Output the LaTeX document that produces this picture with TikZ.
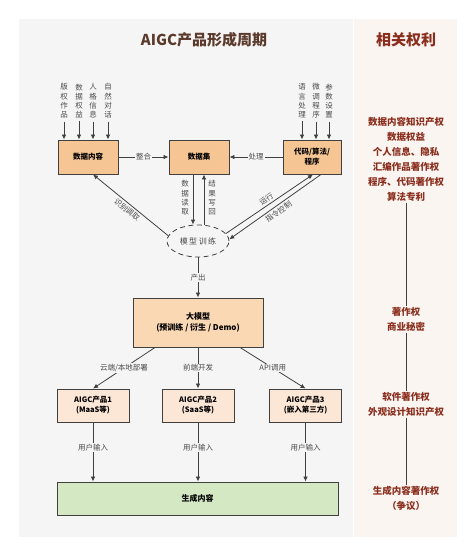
\documentclass[tikz,border=0pt]{standalone}
\usepackage{fontspec}
\usetikzlibrary{arrows.meta,shapes.geometric,positioning}
\newfontfamily\cjk{Noto Sans CJK SC}
\definecolor{panel}{HTML}{F5F5F5}
\definecolor{rpanel}{HTML}{FAF5F0}
\definecolor{tan}{HTML}{F5C594}
\definecolor{peach}{HTML}{FAD8B4}
\definecolor{pale}{HTML}{FCE6D5}
\definecolor{mint}{HTML}{D5E8C4}
\definecolor{brown}{HTML}{5B3A2C}
\definecolor{rust}{HTML}{8B2E1E}
\definecolor{edge}{HTML}{404040}
\definecolor{txt}{HTML}{4A4A4A}

\begin{document}
\begin{tikzpicture}[x=1pt, y=-1pt,
  box/.style={draw=edge, line width=0.9pt, inner sep=1pt, align=center},
  arr/.style={draw=edge, line width=0.8pt, -{Latex[length=5pt,width=4.5pt]}},
  lbl/.style={fill=panel, inner sep=1pt, text=txt, font=\cjk\fontsize{7.5}{9}\selectfont},
  vtext/.style={align=center, inner sep=0pt, text=txt, font=\cjk\fontsize{7.5}{9.3}\selectfont},
  rights/.style={align=center, inner sep=1pt, text=rust, font=\cjk\bfseries\fontsize{9.5}{15}\selectfont}]
\useasboundingbox (0,0) rectangle (475,555);
\fill[panel] (19,19) rectangle (353,537);
\fill[rpanel] (354,19) rectangle (457,537);

\node[text=brown, font=\cjk\bfseries\fontsize{15}{18}\selectfont] (title) at (204,40) {AIGC产品形成周期};
\node[text=rust, font=\cjk\bfseries\fontsize{15}{18}\selectfont] (rtitle) at (406,40) {相关权利};

\begin{scope}[every node/.style={box, fill=tan, minimum width=60pt, minimum height=34pt, font=\cjk\bfseries\fontsize{7.5}{10}\selectfont}]
\node (content) at (88,157) {数据内容};
\node (dataset) at (199,157) {数据集};
\node[minimum width=58pt] (code) at (312,157) {代码/算法/\\程序};
\end{scope}

\node[vtext] (in1) at (64,101) {版\\权\\作\\品};
\node[vtext] (in2) at (79,101) {数\\据\\权\\益};
\node[vtext] (in3) at (93,101) {人\\格\\信\\息};
\node[vtext] (in4) at (108,101) {自\\然\\对\\话};
\node[vtext] (in5) at (302,101) {语\\言\\处\\理};
\node[vtext] (in6) at (316,101) {微\\调\\程\\序};
\node[vtext] (in7) at (329,101) {参\\数\\设\\置};

\draw[arr, shorten <=3pt] (in1) -- (in1 |- content.north);
\draw[arr, shorten <=3pt] (in2) -- (in2 |- content.north);
\draw[arr, shorten <=3pt] (in3) -- (in3 |- content.north);
\draw[arr, shorten <=3pt] (in4) -- (in4 |- content.north);
\draw[arr, shorten <=3pt] (in5) -- (in5 |- code.north);
\draw[arr, shorten <=3pt] (in6) -- (in6 |- code.north);
\draw[arr, shorten <=3pt] (in7) -- (in7 |- code.north);

\draw[arr] (content) -- node[lbl]{整合} (dataset);
\draw[arr] (code) -- node[lbl]{处理} (dataset);

\node[draw=edge, dash pattern=on 5pt off 3.5pt, line width=0.8pt, ellipse, fill=panel, minimum width=62pt, minimum height=32pt, inner sep=0pt, text=txt, font=\cjk\fontsize{8}{9}\selectfont] (train) at (198,241) {模\hspace{1.5pt}型\hspace{1.5pt}训\hspace{1.5pt}练};

\coordinate (rd) at ([xshift=-6pt]dataset.south);
\coordinate (wb) at ([xshift=5pt]dataset.south);
\draw[arr] (rd) -- (rd |- train.north);
\draw[arr] (wb |- train.north) -- (wb);
\node[vtext] (read) at (185,198) {数\\据\\读\\取};
\node[vtext] (back) at (212,198) {结\\果\\写\\回};

\draw[arr] (train.170) -- node[lbl, sloped, below=1pt]{识别调取} ([xshift=5pt]content.south);
\draw[arr] (train.15) -- node[lbl, sloped, above=1pt]{运行} ([xshift=1pt]code.south);
\draw[arr] ([xshift=9pt]code.south) -- node[lbl, sloped, below=1pt]{指令控制} (train.3);

\node[box, fill=peach, minimum width=130pt, minimum height=49pt, font=\cjk\bfseries\fontsize{8}{11}\selectfont] (model) at (198,322.5) {大模型\\(预训练 / 衍生 / Demo)};
\draw[arr] (train) -- node[lbl]{产出} (model);

\begin{scope}[every node/.style={box, fill=pale, minimum width=72pt, minimum height=33pt, font=\cjk\bfseries\fontsize{7.5}{10}\selectfont}]
\node (p1) at (93,405.5) {AIGC产品1\\(MaaS等)};
\node (p2) at (198,405.5) {AIGC产品2\\(SaaS等)};
\node (p3) at (305.5,405.5) {AIGC产品3\\(嵌入第三方)};
\end{scope}

\draw[arr] ([xshift=-43pt]model.south) -- node[lbl]{云端/本地部署} (p1.north);
\draw[arr] (model) -- node[lbl]{前端开发} (p2);
\draw[arr] ([xshift=42pt]model.south) -- node[lbl]{API调用} (p3.north);

\node[box, fill=mint, minimum width=281pt, minimum height=33pt, font=\cjk\bfseries\fontsize{8}{10}\selectfont] (gen) at (197.5,498.5) {生成内容};

\draw[arr] (p1) -- node[lbl, pos=0.42]{用户输入} (p1 |- gen.north);
\draw[arr] (p2) -- node[lbl, pos=0.42]{用户输入} (p2 |- gen.north);
\draw[arr] (p3) -- node[lbl, pos=0.42]{用户输入} (p3 |- gen.north);

\node[rights] (r1) at (406,159.5) {数据内容知识产权\\数据权益\\个人信息、隐私\\汇编作品著作权\\程序、代码著作权\\算法专利};
\node[rights] (r2) at (406,319.5) {著作权\\商业秘密};
\node[rights] (r3) at (406,404.5) {软件著作权\\外观设计知识产权};
\node[rights] (r4) at (406,498) {生成内容著作权\\（争议）};

\draw[edge, line width=0.8pt] (r1) -- (r2);
\draw[edge, line width=0.8pt] (r2) -- (r3);
\draw[edge, line width=0.8pt] (r3) -- (r4);
\end{tikzpicture}
\end{document}
